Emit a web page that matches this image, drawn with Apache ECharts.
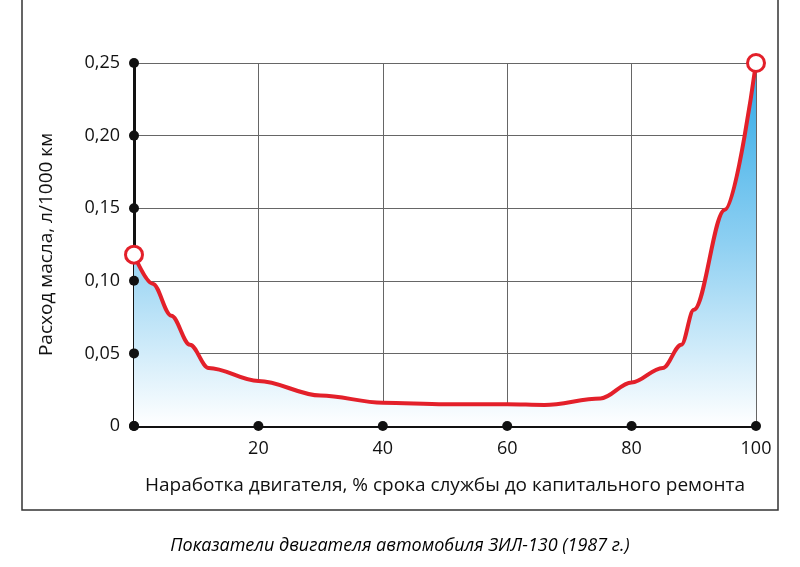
<!DOCTYPE html>
<html><head><meta charset="utf-8">
<script src="https://cdn.jsdelivr.net/npm/echarts@6/dist/echarts.min.js"></script>
<style>html,body{margin:0;background:#fff}#c{width:800px;height:567px}</style>
</head><body><div id="c"></div>
<script>
const xValues=[0,3,6,9,12,20,30,40,50,60,66,75,80,85,88,90,95,100];
const yValues=[0.118,0.098,0.076,0.056,0.040,0.031,0.021,0.016,0.015,0.015,0.0145,0.019,0.030,0.040,0.056,0.080,0.149,0.25];
const xTicks=[0,20,40,60,80,100];
const yTicks=[0,0.05,0.10,0.15,0.20,0.25];
const xTitle='Наработка двигателя, % срока службы до капитального ремонта';
const yTitle='Расход масла, л/1000 км';
const caption='Показатели двигателя автомобиля ЗИЛ-130 (1987 г.)';
const chart=echarts.init(document.getElementById('c'));
const dots=[];
xTicks.forEach(x=>dots.push([x,0]));
yTicks.forEach(y=>dots.push([0,y]));
const F='"Open Sans", sans-serif';
chart.setOption({
 animation:false,
 graphic:[
  {type:'rect',shape:{x:22,y:-2,width:756,height:512},style:{fill:'none',stroke:'#333',lineWidth:1.5}},
  {type:'text',left:'center',top:537,style:{text:caption,font:'italic 18px "Open Sans", sans-serif',fill:'#000'}}
 ],
 grid:{left:134,right:44,top:63,bottom:141},
 xAxis:{type:'value',min:0,max:100,interval:20,
  axisLine:{onZero:false,lineStyle:{color:'#111',width:3}},axisTick:{show:false},
  axisLabel:{fontSize:18,fontFamily:F,color:'#111',margin:14,formatter:v=>v===0?'':v},
  splitLine:{show:true,lineStyle:{color:'#666',width:1}},
  name:xTitle,nameLocation:'middle',nameGap:50,nameTextStyle:{fontSize:19,fontFamily:F,color:'#111'}},
 yAxis:{type:'value',min:0,max:0.25,interval:0.05,
  axisLine:{show:true,lineStyle:{color:'#111',width:3}},axisTick:{show:false},
  axisLabel:{fontSize:18,fontFamily:F,color:'#111',margin:14,formatter:v=>v===0?'0':v.toFixed(2).replace('.',',')},
  splitLine:{show:true,lineStyle:{color:'#666',width:1}},
  name:yTitle,nameLocation:'middle',nameGap:78,nameTextStyle:{fontSize:19,fontFamily:F,color:'#111'}},
 series:[
  {type:'scatter',data:dots,symbolSize:10,itemStyle:{color:'#111',opacity:1},z:4},
  {type:'line',data:xValues.map((x,i)=>[x,yValues[i]]),smooth:0.35,smoothMonotone:'x',
   lineStyle:{color:'#e3202a',width:4},
   symbol:'circle',showAllSymbol:true,
   itemStyle:{color:'#fff',borderColor:'#e3202a',borderWidth:3},
   symbolSize:(v,p)=>(p.dataIndex===0||p.dataIndex===xValues.length-1)?17:0,
   areaStyle:{opacity:1,color:new echarts.graphic.LinearGradient(0,0,0,1,[{offset:0,color:'#2fa9e6'},{offset:0.5,color:'#8fd0f2'},{offset:1,color:'#ffffff'}])},z:3}
 ]
});
</script></body></html>
